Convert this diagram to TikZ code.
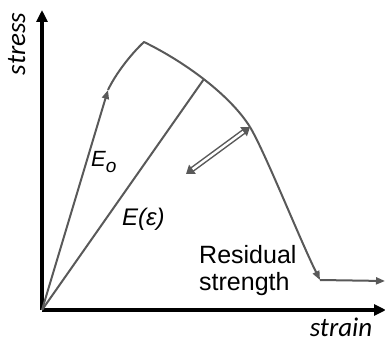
\documentclass[tikz,border=0pt]{standalone}
\usepackage{fontspec}
\setmainfont{Liberation Sans}
\newfontfamily\arialf{Liberation Sans}
\newfontfamily\calib{Carlito}
\usetikzlibrary{arrows.meta}
\definecolor{curvegray}{HTML}{595959}
\tikzset{
  axisline/.style={line width=3.5pt, black, -{Triangle[length=12pt,width=11pt]}},
  curveline/.style={line width=2pt, curvegray, line join=round},
  gtip/.style={-{Triangle[length=9pt,width=7pt]}},
  dblarrow/.style={curvegray, line width=1.5pt, double=white, double distance=2.4pt,
     {Triangle[length=8pt,width=11pt]}-{Triangle[length=8pt,width=11pt]}},
  axlabel/.style={inner sep=0pt, font=\calib\itshape\fontsize{27}{30}\selectfont},
  txt/.style={inner sep=0pt, font=\arialf\fontsize{25}{28}\selectfont},
  mlabel/.style={inner sep=0pt, font=\arialf\itshape\fontsize{22}{26}\selectfont},
}
\begin{document}
\begin{tikzpicture}[x=1pt,y=-1pt]
\useasboundingbox (0,0) rectangle (385,342);
% key points
\coordinate (O) at (42,310);
\coordinate (Y) at (42,10);
\coordinate (X) at (386,310);
\coordinate (A) at (108,90);
\coordinate (P) at (144,42);
\coordinate (S) at (204,79);
\coordinate (D) at (250,127);
\coordinate (F) at (320,280);
\coordinate (R) at (385,281);
\coordinate (Q) at (186,174);
% axes
\draw[axisline] (O) -- (Y);
\draw[axisline] (O) -- (X);
% loading line with arrow
\draw[curveline, gtip] (O) -- (A);
% curve
\draw[curveline] (A) .. controls (115,75) and (130,55) .. (P)
   .. controls (185,62) and (230,95) .. (D);
\draw[curveline, gtip] (D) .. controls (265,152) and (300,240) .. (F);
\draw[curveline, gtip] (F) -- (R);
% secant
\draw[curveline] (O) -- (S);
% double arrow
\draw[dblarrow] (Q) -- (D);
% labels
\node[axlabel, rotate=90, anchor=base] (stress) at (25,44) {stress};
\node[axlabel, anchor=base] (strain) at (341,336) {strain};
\node[txt, anchor=base west] (res1) at (199,263) {Residual};
\node[txt, anchor=base west] (res2) at (199,290) {strength};
\node[mlabel, anchor=base west] (Eo) at (91,166) {E{\fontsize{19}{19}\selectfont\raisebox{-6pt}{o}}};
\node[mlabel, anchor=base west, font=\arialf\itshape\fontsize{24}{26}\selectfont] (Eeps) at (122,225) {E(ε)};
\end{tikzpicture}
\end{document}
